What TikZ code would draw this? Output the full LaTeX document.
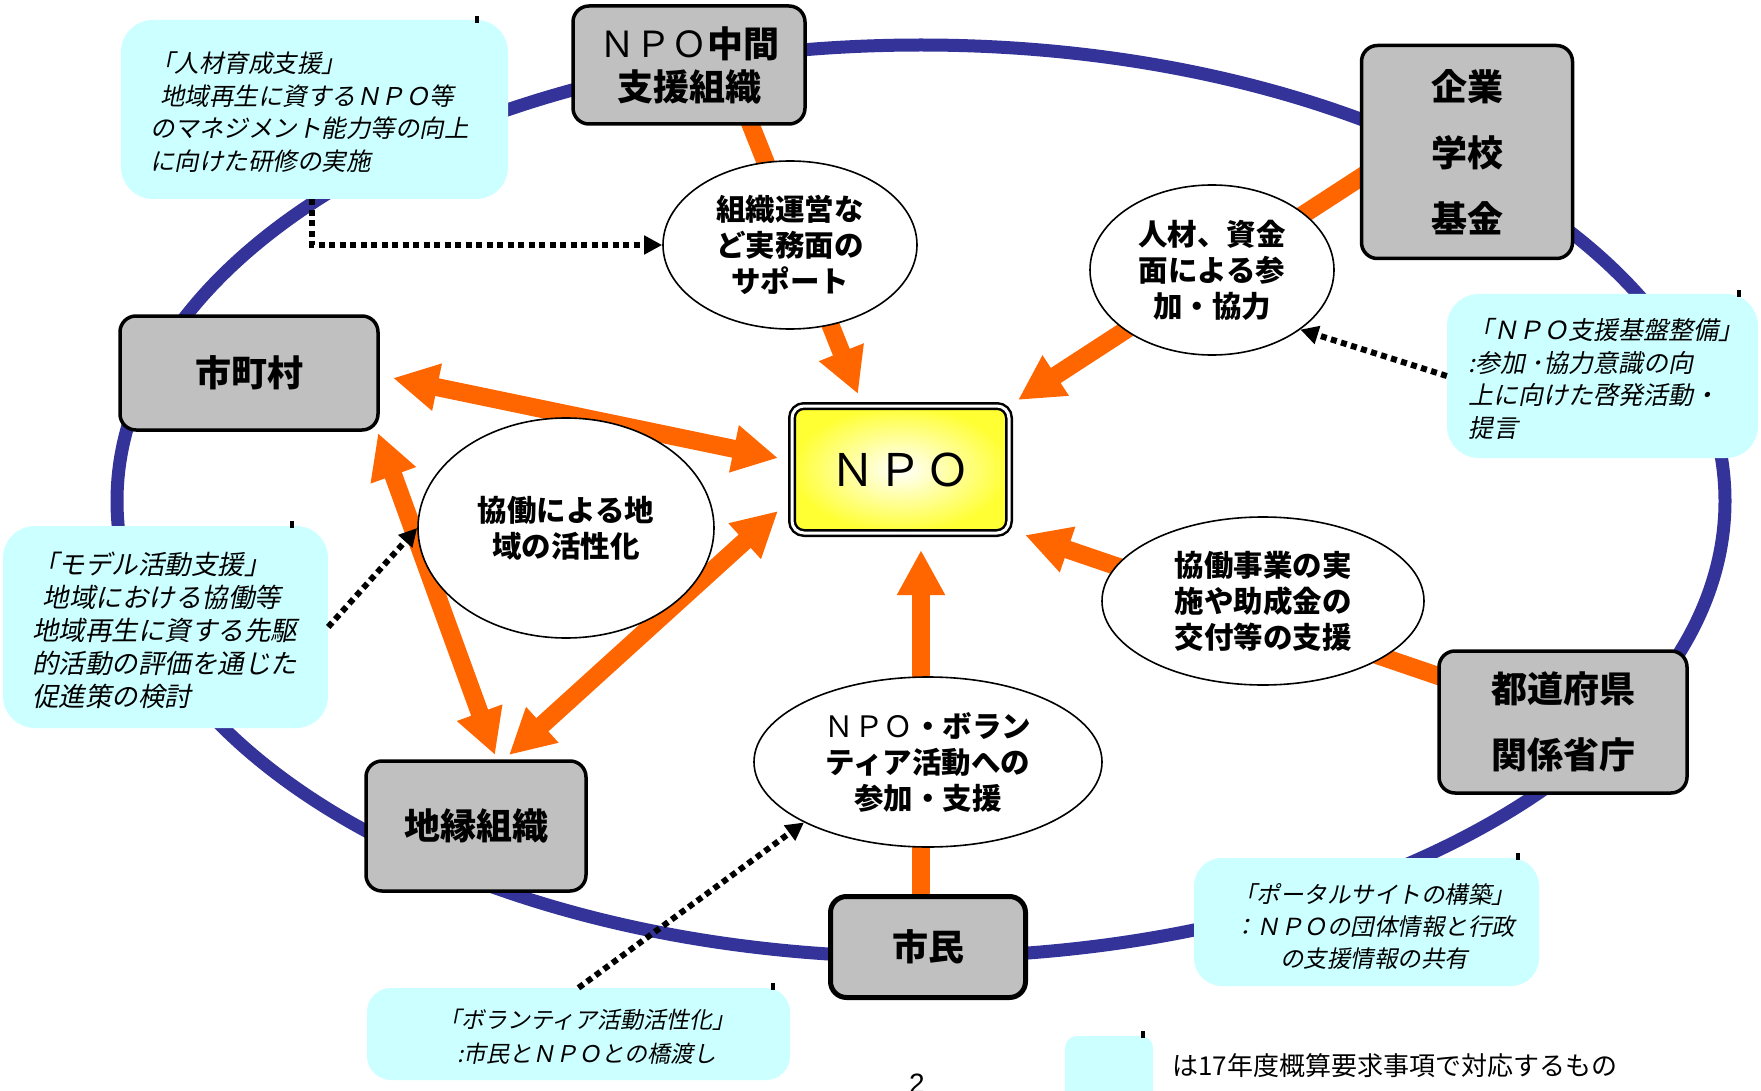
\documentclass[tikz,border=0pt]{standalone}
\usepackage{fontspec}
\setmainfont{Liberation Sans}
\newfontfamily\cjk{Noto Sans CJK JP}
\newfontfamily\cjkit[FakeSlant=0.2]{Noto Sans CJK JP}
\usetikzlibrary{arrows.meta,shapes.geometric,calc}
\definecolor{ringblue}{HTML}{333399}
\definecolor{oarr}{HTML}{FF6600}
\definecolor{cyanbox}{HTML}{CCFFFF}
\definecolor{boxgray}{HTML}{C0C0C0}
\definecolor{npoyellow}{HTML}{FFFF33}
\begin{document}
\begin{tikzpicture}[x=1pt,y=-1pt,
  graybox/.style={draw=black, line width=3.5pt, fill=boxgray, rounded corners=16pt, align=center,
    font=\cjk\bfseries\fontsize{36}{43}\selectfont, inner sep=0pt},
  bubble/.style={ellipse, draw=black, line width=1.6pt, fill=white, align=center,
    font=\cjk\bfseries\fontsize{29.5}{36}\selectfont, inner sep=0pt},
  note/.style={fill=cyanbox, rounded corners=32pt, inner sep=0pt},
  notetext/.style={font=\cjkit\fontsize{24.5}{32.6}\selectfont, inner sep=0pt},
  oarrow/.style={draw=oarr, line width=18pt, -{Triangle[length=45pt,width=45pt]}},
  oboth/.style={draw=oarr, line width=18pt, {Triangle[length=45pt,width=45pt]}-{Triangle[length=45pt,width=45pt]}},
  dotarrow/.style={draw=black, line width=6pt, dash pattern=on 6pt off 4.5pt, -{Triangle[length=18pt,width=18pt]}},
  cornermark/.style={fill=black}
]
\useasboundingbox (0,0) rectangle (1761,1091);
\clip (0,0) rectangle (1761,1091);
\fill[white] (0,0) rectangle (1761,1091);

% outer ring
\draw[ringblue, line width=13pt] (921,501) ellipse [x radius=804, y radius=456];

% arrow end points
\coordinate (a1s) at (748,118);  \coordinate (a1e) at (858,394);
\coordinate (a2s) at (1375,168); \coordinate (a2e) at (1018,400);
\coordinate (a3s) at (1450,680); \coordinate (a3e) at (1025,535);
\coordinate (a4s) at (921,905);  \coordinate (a4e) at (921,550);
\coordinate (a5s) at (393,378);  \coordinate (a5e) at (778,458);
\coordinate (a6s) at (378,433);  \coordinate (a6e) at (495,755);
\coordinate (a7s) at (509,755);  \coordinate (a7e) at (778,511);

% orange arrows
\draw[oarrow] (a1s) -- (a1e);
\draw[oarrow] (a2s) -- (a2e);
\draw[oarrow] (a3s) -- (a3e);
\draw[oarrow] (a4s) -- (a4e);
\draw[oboth] (a5s) -- (a5e);
\draw[oboth] (a6s) -- (a6e);
\draw[oboth] (a7s) -- (a7e);

% ellipses
\node[bubble, minimum width=254pt, minimum height=168pt] (e1) at (790,245) {組織運営な\\ど実務面の\\サポート};
\node[bubble, minimum width=244pt, minimum height=170pt] (e2) at (1212,270) {人材、資金\\面による参\\加・協力};
\node[bubble, minimum width=296pt, minimum height=220pt] (e3) at (566,528) {協働による地\\域の活性化};
\node[bubble, minimum width=322pt, minimum height=168pt] (e4) at (1263,601) {協働事業の実\\施や助成金の\\交付等の支援};
\node[bubble, minimum width=348pt, minimum height=170pt] (e5) at (928,762) {{\mdseries ＮＰＯ}・ボラン\\ティア活動への\\参加・支援};

% grey boxes
\node[graybox, minimum width=232pt, minimum height=118pt] (chukan) at (689,65) {{\mdseries ＮＰＯ}中間\\支援組織};
\node[graybox, minimum width=211pt, minimum height=213pt, font=\cjk\bfseries\fontsize{36}{66}\selectfont] (kigyo) at (1467,152) {企業\\学校\\基金};
\node[graybox, minimum width=258pt, minimum height=114pt] (shicho) at (249,373) {市町村};
\node[graybox, minimum width=220pt, minimum height=130pt] (chien) at (476,826) {地縁組織};
\node[graybox, line width=5pt, minimum width=195pt, minimum height=101pt] (shimin) at (928,947) {市民};
\node[graybox, minimum width=248pt, minimum height=142pt, font=\cjk\bfseries\fontsize{36}{66}\selectfont] (todo) at (1563,722) {都道府県\\関係省庁};

% NPO centre box
\node[draw=black, line width=2.5pt, double=white, double distance=3pt, rounded corners=12pt,
  minimum width=217pt, minimum height=127pt, inner color=white, outer color=npoyellow,
  font=\cjk\fontsize{45}{50}\selectfont] (npo) at (900.5,469.5) {Ｎ\hspace{3pt}Ｐ\hspace{3pt}Ｏ};

% cyan notes
\node[note, minimum width=387pt, minimum height=179pt] (c1) at (314.5,109.5) {};
\node[notetext, anchor=west, align=left] (t1) at (150,112)
  {「人材育成支援」\\\hspace*{0.4em}地域再生に資するＮＰＯ等\\のマネジメント能力等の向上\\に向けた研修の実施};

\node[note, minimum width=311pt, minimum height=164pt] (c2) at (1602.5,376) {};
\node[notetext, anchor=west, align=left, font=\cjkit\fontsize{25}{32.6}\selectfont] (t2) at (1468,379)
  {「ＮＰＯ支援基盤整備」\\:参加 ･協力意識の向\\上に向けた啓発活動・\\提言};

\node[note, minimum width=325pt, minimum height=202pt] (c3) at (165.5,627) {};
\node[notetext, anchor=west, align=left, font=\cjkit\fontsize{26.5}{33}\selectfont] (t3) at (32,630)
  {「モデル活動支援」\\\hspace*{0.4em}地域における協働等\\地域再生に資する先駆\\的活動の評価を通じた\\促進策の検討};

\node[note, minimum width=423pt, minimum height=92pt, rounded corners=24pt] (c4) at (578.5,1034) {};
\node[notetext, align=center, font=\cjkit\fontsize{23}{34}\selectfont] (t4) at (587,1037)
  {「ボランティア活動活性化」\\:市民とＮＰＯとの橋渡し};

\node[note, minimum width=345pt, minimum height=128pt, rounded corners=28pt] (c5) at (1366.5,922) {};
\node[notetext, align=center, font=\cjkit\fontsize{23.5}{32}\selectfont] (t5) at (1374,926)
  {「ポータルサイトの構築」\\：ＮＰＯの団体情報と行政\\の支援情報の共有};

% legend
\node[note, rounded corners=12pt, minimum width=88pt, minimum height=70pt] (leg) at (1109,1071) {};
\node[anchor=west, inner sep=0pt, font=\cjk\fontsize{26}{30}\selectfont] (legtext) at (1172,1066)
  {は17年度概算要求事項で対応するもの};

% small corner marks
\fill[cornermark] (475,16) rectangle (479,23);
\fill[cornermark] (1737,290) rectangle (1741,297);
\fill[cornermark] (290,521) rectangle (294,528);
\fill[cornermark] (771,983) rectangle (775,990);
\fill[cornermark] (1516,853) rectangle (1520,860);
\fill[cornermark] (1141,1031) rectangle (1145,1038);

% dotted connectors
\draw[dotarrow] ([xshift=-2.5pt]c1.south) |- (e1.west);
\draw[dotarrow] (c2.west) -- (e2.-34);
\draw[dotarrow] (c3.east) -- (e3.west);
\draw[dotarrow] (c4.north) -- (e5.206);

% page number (cut by the lower edge, as in the reference)
\node[anchor=base, inner sep=0pt, font=\fontsize{28}{30}\selectfont] (pg) at (917,1093) {2};
\end{tikzpicture}
\end{document}
